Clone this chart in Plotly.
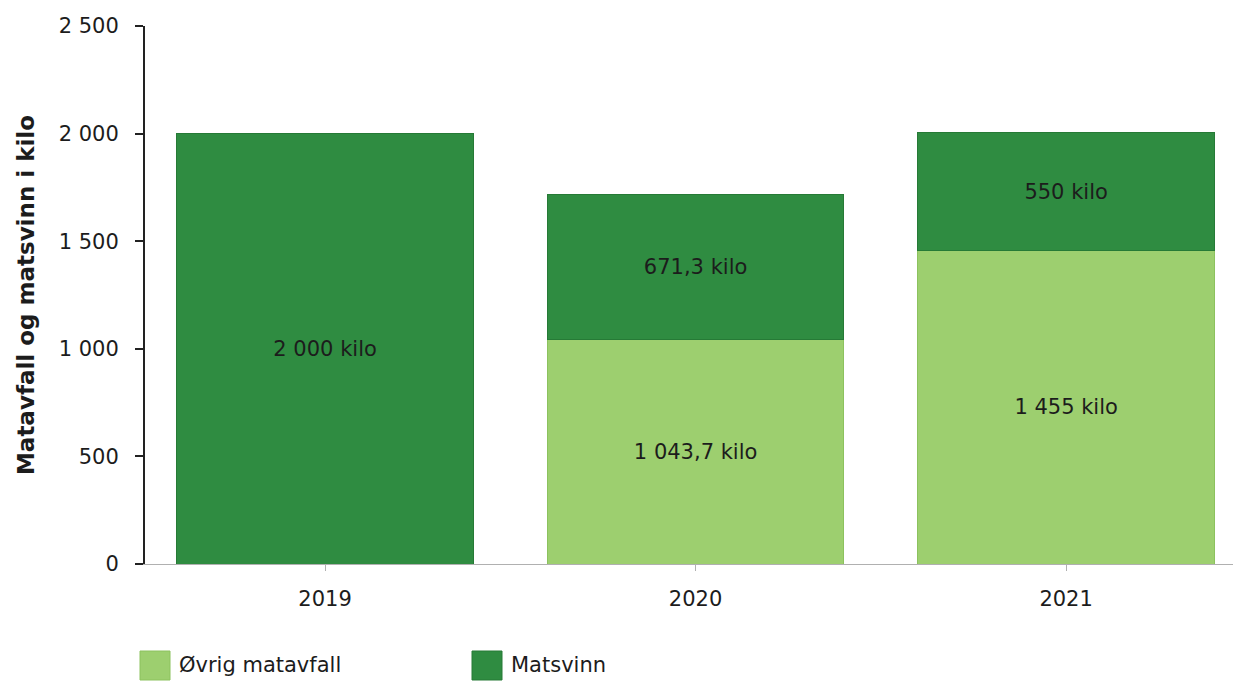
import plotly.graph_objects as go

years = ["2019", "2020", "2021"]
ovrig_matavfall = [None, 1043.7, 1455]
matsvinn = [2000, 671.3, 550]
y_ticks = [0, 500, 1000, 1500, 2000, 2500]
legend_names = ["Øvrig matavfall", "Matsvinn"]

LIGHT = "#9dcf6f"
DARK = "#2f8c41"
FONT = "DejaVu Sans"
TXT = "#1c1c1c"


def fmt(v):
    if v is None:
        return ""
    if abs(v - round(v)) < 1e-9:
        s = f"{int(round(v)):,}".replace(",", " ")
    else:
        s = f"{v:,.1f}".replace(",", " ").replace(".", ",")
    return s + " kilo"


fig = go.Figure()
fig.add_trace(go.Bar(
    x=years, y=ovrig_matavfall, name=legend_names[0],
    marker=dict(color=LIGHT, line=dict(color="#8cc25e", width=1)),
    text=[fmt(v) for v in ovrig_matavfall], textposition="inside",
    insidetextanchor="middle", textangle=0,
    textfont=dict(family=FONT, size=21, color=TXT),
))
fig.add_trace(go.Bar(
    x=years, y=matsvinn, name=legend_names[1],
    marker=dict(color=DARK, line=dict(color="#267a36", width=1)),
    text=[fmt(v) for v in matsvinn], textposition="inside",
    insidetextanchor="middle", textangle=0,
    textfont=dict(family=FONT, size=21, color=TXT),
))

# custom legend with large swatches
W, H = 1233, 673
L, R, T, B = 137, 0, 18, 117
pw, ph = W - L - R, H - T - B


def px_x(p):
    return (p - 8 - L) / pw


def px_y(p):
    return 1 - (p - 8 - T) / ph


legend_items = [(legend_names[0], LIGHT, "#8cc25e", 140), (legend_names[1], DARK, "#267a36", 472)]
for name, col, lcol, x0 in legend_items:
    fig.add_shape(type="rect", xref="paper", yref="paper",
                  x0=px_x(x0), x1=px_x(x0 + 30), y0=px_y(680), y1=px_y(651),
                  fillcolor=col, line=dict(color=lcol, width=1))
    fig.add_annotation(xref="paper", yref="paper", x=px_x(x0 + 37), y=px_y(665),
                       xanchor="left", yanchor="middle", showarrow=False,
                       text=name, font=dict(family=FONT, size=21, color=TXT))

fig.update_layout(
    barmode="stack",
    bargap=0.2,
    width=W, height=H,
    margin=dict(l=L, r=R, t=T, b=B),
    paper_bgcolor="white", plot_bgcolor="white",
    separators=", ",
    font=dict(family=FONT, size=21, color=TXT),
    showlegend=False,
    xaxis=dict(
        type="category", range=[-0.486, 2.472],
        showline=True, linecolor="#b0b0b0", linewidth=1,
        ticks="outside", tickcolor="#b0b0b0", ticklen=6,
        ticklabelstandoff=10,
        tickfont=dict(family=FONT, size=21, color=TXT),
        showgrid=False,
    ),
    yaxis=dict(
        range=[0, 2500], tickvals=y_ticks, tickformat=",d",
        showline=True, linecolor="#222222", linewidth=2,
        ticks="outside", tickcolor="#222222", ticklen=8, tickwidth=2,
        ticklabelstandoff=12,
        tickfont=dict(family=FONT, size=21, color=TXT),
        showgrid=False, zeroline=False,
        title=dict(text="<b>Matavfall og matsvinn i kilo</b>",
                   font=dict(family=FONT, size=23, color=TXT),
                   standoff=18),
    ),
)

fig.write_html("out.html")
